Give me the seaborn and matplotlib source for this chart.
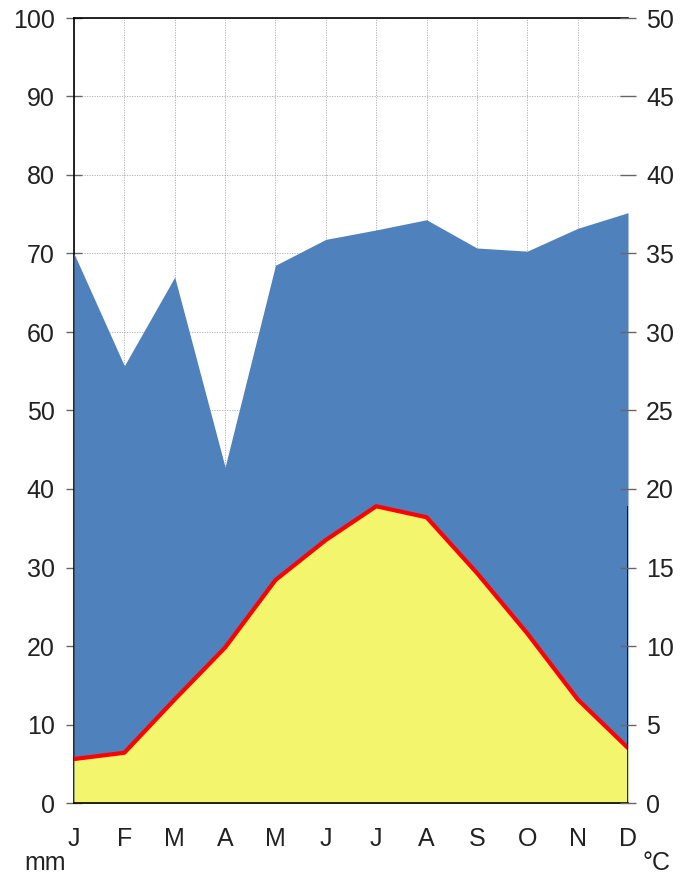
import matplotlib.pyplot as plt
import pandas as pd
import seaborn as sns

MONTHS = ["J", "F", "M", "A", "M", "J", "J", "A", "S", "O", "N", "D"]
PRECIP_MM = [70.0, 55.7, 67.0, 42.8, 68.5, 71.8, 73.0, 74.3, 70.7, 70.3, 73.2, 75.2]
TEMP_C = [2.8, 3.2, 6.6, 9.9, 14.2, 16.75, 18.9, 18.2, 14.65, 10.8, 6.6, 3.5]

BLUE = "#4f81bc"
YELLOW = "#f3f56c"
RED = "#ff0000"

sns.set_style("white")
plt.rcParams["font.family"] = ["Liberation Sans", "DejaVu Sans"]
plt.rcParams["text.color"] = "#222222"
plt.rcParams["xtick.labelcolor"] = "#222222"
plt.rcParams["ytick.labelcolor"] = "#222222"

df = pd.DataFrame({"m": range(len(MONTHS)), "precip": PRECIP_MM, "temp": TEMP_C})
df["temp_mm"] = df["temp"] * 2  # 10 mm = 5 degC

fig = plt.figure(figsize=(6.82, 8.80), dpi=100)
ax = fig.add_axes([74 / 682, 1 - 803 / 880, 554 / 682, 785 / 880])

ax.fill_between(df["m"], 0, df["precip"], color=BLUE, lw=0, zorder=2)
ax.fill_between(df["m"], 0, df["temp_mm"], color=YELLOW, lw=0, zorder=3)
sns.lineplot(data=df, x="m", y="temp_mm", color=RED, lw=3, ax=ax, zorder=4)
ax.vlines(11, 0, df["temp_mm"].max(), color="black", lw=1.2, zorder=5)

ax.set_xlim(0, 11)
ax.set_ylim(0, 100)
ax.set_xticks(df["m"], MONTHS)
ax.set_yticks(range(0, 101, 10))
ax.set_xlabel("")
ax.set_ylabel("")
ax.grid(True, color="#aaaaaa", ls=(0, (1.5, 1.5)), lw=0.6, zorder=0)
ax.set_axisbelow(True)
for side in ["left", "top", "bottom"]:
    ax.spines[side].set_visible(True)
    ax.spines[side].set_color("black")
    ax.spines[side].set_linewidth(1.2)
ax.spines["right"].set_visible(False)
ax.spines["left"].set_zorder(1)
ax.spines["bottom"].set_zorder(6)

ax.tick_params(axis="y", direction="inout", length=12, width=1, color="#666666",
               labelsize=18, pad=8, left=True)
ax.tick_params(axis="x", length=0, labelsize=18, pad=17)

ax2 = ax.twinx()
ax2.set_ylim(0, 50)
ax2.set_yticks(range(0, 51, 5))
for side in ax2.spines:
    ax2.spines[side].set_visible(False)
ax2.tick_params(axis="y", direction="inout", length=12, width=1, color="#666666",
                labelsize=18, pad=7, right=True)

fig.text(45 / 682, 1 - 863 / 880, "mm", fontsize=18, ha="center", va="center")
fig.text(656 / 682, 1 - 863 / 880, "°C", fontsize=18, ha="center", va="center")

fig.savefig("out.png", dpi=100)
